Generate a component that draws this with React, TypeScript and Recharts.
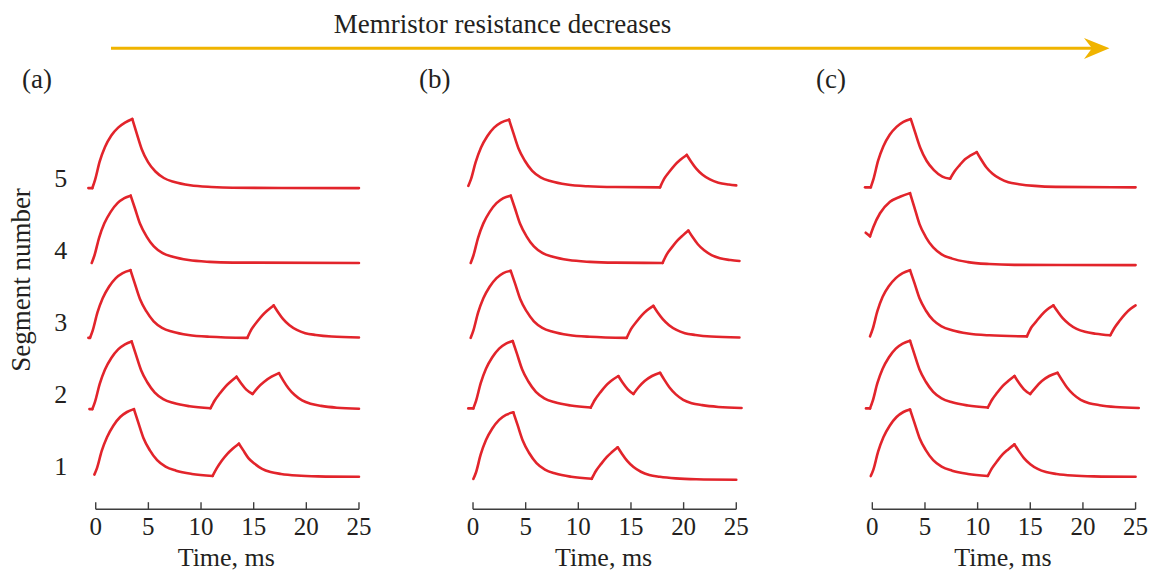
import React from "react";
import { LineChart, Line, XAxis, YAxis, ReferenceLine } from "recharts";

type Pt = [number, number];

const timeTicks = [0, 5, 10, 15, 20, 25];
const segmentTicks = [1, 2, 3, 4, 5];
const panelLabels = ["(a)", "(b)", "(c)"];

// resting level of segments 1..5 in each panel
const baseA = [0.85, 1.79, 2.78, 3.82, 4.86];
const baseB = [0.81, 1.8, 2.78, 3.82, 4.87];
const baseC = [0.85, 1.8, 2.8, 3.79, 4.87];

// [time ms, height above resting level]
const a1: Pt[] = [[-0.13, 0.03], [0.12, 0.12], [0.57, 0.36], [1.07, 0.55], [1.67, 0.71], [2.32, 0.83], [2.97, 0.9], [3.63, 0.94], [4.03, 0.76], [4.53, 0.54], [5.13, 0.37], [5.83, 0.23], [6.63, 0.14], [7.63, 0.085], [9.13, 0.04], [11.1, 0.012], [11.5, 0.12], [12.0, 0.23], [12.5, 0.32], [13.0, 0.39], [13.6, 0.46], [14.0, 0.37], [14.5, 0.26], [15.1, 0.18], [15.8, 0.11], [16.6, 0.066], [17.6, 0.04], [19.1, 0.018], [21.1, 0.006], [25, 0]];
const a2: Pt[] = [[-0.6, 0], [-0.32, 0], [-0.07, 0.1], [0.38, 0.35], [0.88, 0.55], [1.48, 0.71], [2.13, 0.83], [2.78, 0.9], [3.41, 0.94], [3.81, 0.76], [4.31, 0.54], [4.91, 0.37], [5.61, 0.23], [6.41, 0.14], [7.41, 0.085], [8.91, 0.04], [10.9, 0.012], [11.3, 0.12], [11.8, 0.22], [12.3, 0.31], [12.8, 0.38], [13.37, 0.45], [13.8, 0.36], [14.3, 0.27], [14.9, 0.21], [15.4, 0.3], [16.0, 0.38], [16.7, 0.45], [17.4, 0.5], [17.8, 0.4], [18.3, 0.29], [18.9, 0.195], [19.6, 0.12], [20.4, 0.073], [21.4, 0.045], [22.9, 0.02], [25, 0.006]];
const a3: Pt[] = [[-0.7, 0], [-0.54, 0], [-0.29, 0.1], [0.16, 0.35], [0.66, 0.55], [1.26, 0.71], [1.91, 0.83], [2.56, 0.9], [3.3, 0.94], [3.7, 0.76], [4.2, 0.54], [4.8, 0.37], [5.5, 0.23], [6.3, 0.14], [7.3, 0.085], [8.8, 0.04], [10.8, 0.015], [14.4, 0], [14.8, 0.12], [15.3, 0.22], [15.8, 0.31], [16.3, 0.38], [16.9, 0.45], [17.3, 0.36], [17.8, 0.26], [18.4, 0.175], [19.1, 0.11], [19.9, 0.065], [20.9, 0.04], [22.4, 0.018], [25, 0.005]];
const a4: Pt[] = [[-0.38, 0], [-0.13, 0.1], [0.32, 0.35], [0.82, 0.55], [1.42, 0.71], [2.07, 0.83], [2.72, 0.9], [3.32, 0.935], [3.72, 0.76], [4.22, 0.54], [4.82, 0.37], [5.52, 0.23], [6.32, 0.14], [7.32, 0.085], [8.82, 0.04], [10.8, 0.015], [13, 0.005], [25, 0]];
const a5: Pt[] = [[-0.7, 0], [-0.32, 0], [-0.07, 0.11], [0.38, 0.37], [0.88, 0.57], [1.48, 0.73], [2.13, 0.84], [2.78, 0.91], [3.47, 0.96], [3.87, 0.77], [4.37, 0.54], [4.97, 0.36], [5.67, 0.23], [6.47, 0.14], [7.47, 0.085], [8.97, 0.04], [10.97, 0.015], [13, 0.004], [25, 0]];

const b1: Pt[] = [[0.03, 0.01], [0.28, 0.1], [0.73, 0.35], [1.23, 0.55], [1.83, 0.71], [2.48, 0.83], [3.13, 0.9], [3.83, 0.935], [4.23, 0.76], [4.73, 0.54], [5.33, 0.37], [6.03, 0.23], [6.83, 0.14], [7.83, 0.085], [9.33, 0.04], [11.27, 0.012], [11.67, 0.12], [12.17, 0.22], [12.67, 0.31], [13.17, 0.38], [13.74, 0.45], [14.14, 0.36], [14.64, 0.26], [15.24, 0.175], [15.94, 0.11], [16.74, 0.065], [17.74, 0.04], [19.24, 0.018], [21.2, 0.006], [25, 0]];
const b2: Pt[] = [[-0.45, 0], [0.03, 0], [0.28, 0.1], [0.73, 0.35], [1.23, 0.55], [1.83, 0.71], [2.48, 0.83], [3.13, 0.9], [3.77, 0.935], [4.17, 0.76], [4.67, 0.54], [5.27, 0.37], [5.97, 0.23], [6.77, 0.14], [7.77, 0.085], [9.27, 0.04], [11.18, 0.012], [11.58, 0.12], [12.08, 0.22], [12.58, 0.31], [13.1, 0.38], [13.8, 0.45], [14.2, 0.36], [14.7, 0.265], [15.23, 0.2], [15.7, 0.29], [16.3, 0.38], [17.0, 0.45], [17.76, 0.495], [18.16, 0.4], [18.66, 0.29], [19.26, 0.195], [19.96, 0.12], [20.76, 0.073], [21.76, 0.045], [23.3, 0.02], [25.5, 0.006]];
const b3: Pt[] = [[-0.22, 0], [0.03, 0.1], [0.48, 0.35], [0.98, 0.55], [1.58, 0.71], [2.23, 0.83], [2.88, 0.9], [3.58, 0.93], [3.98, 0.76], [4.48, 0.54], [5.08, 0.37], [5.78, 0.23], [6.58, 0.14], [7.58, 0.085], [9.08, 0.04], [11.1, 0.015], [14.6, 0], [15.0, 0.12], [15.5, 0.22], [16.0, 0.31], [16.5, 0.38], [17.12, 0.445], [17.52, 0.355], [18.02, 0.26], [18.62, 0.175], [19.32, 0.11], [20.12, 0.065], [21.12, 0.04], [22.6, 0.018], [25.3, 0.005]];
const b4: Pt[] = [[-0.22, 0], [0.03, 0.1], [0.48, 0.35], [0.98, 0.55], [1.58, 0.71], [2.23, 0.83], [2.88, 0.9], [3.58, 0.935], [3.98, 0.76], [4.48, 0.54], [5.08, 0.37], [5.78, 0.23], [6.58, 0.14], [7.58, 0.085], [9.08, 0.04], [11.1, 0.015], [13.5, 0.004], [18.0, 0], [18.4, 0.12], [18.9, 0.22], [19.4, 0.31], [19.9, 0.38], [20.45, 0.45], [20.85, 0.36], [21.35, 0.26], [21.95, 0.175], [22.65, 0.11], [23.45, 0.065], [24.45, 0.04], [25.3, 0.028]];
const b5: Pt[] = [[-0.45, 0.02], [-0.2, 0.11], [0.25, 0.35], [0.75, 0.55], [1.35, 0.71], [2.0, 0.83], [2.65, 0.9], [3.42, 0.94], [3.82, 0.76], [4.32, 0.54], [4.92, 0.37], [5.62, 0.23], [6.42, 0.14], [7.42, 0.085], [8.92, 0.04], [10.9, 0.015], [13.5, 0.004], [17.76, 0], [18.16, 0.12], [18.66, 0.22], [19.16, 0.31], [19.66, 0.38], [20.3, 0.45], [20.7, 0.36], [21.2, 0.26], [21.8, 0.175], [22.5, 0.11], [23.3, 0.065], [24.3, 0.04], [25, 0.028]];

const c1: Pt[] = [[-0.15, 0.01], [0.1, 0.1], [0.55, 0.35], [1.05, 0.55], [1.65, 0.71], [2.3, 0.83], [2.95, 0.9], [3.58, 0.935], [3.98, 0.76], [4.48, 0.54], [5.08, 0.37], [5.78, 0.23], [6.58, 0.14], [7.58, 0.085], [9.08, 0.04], [10.97, 0.012], [11.37, 0.12], [11.87, 0.22], [12.37, 0.31], [12.9, 0.38], [13.5, 0.45], [13.9, 0.36], [14.4, 0.26], [15.0, 0.175], [15.7, 0.11], [16.5, 0.065], [17.5, 0.04], [19.0, 0.018], [21, 0.006], [25, 0]];
const c2: Pt[] = [[-0.6, 0], [-0.22, 0], [0.03, 0.1], [0.48, 0.35], [0.98, 0.55], [1.58, 0.71], [2.23, 0.83], [2.88, 0.9], [3.58, 0.94], [3.98, 0.76], [4.48, 0.54], [5.08, 0.37], [5.78, 0.23], [6.58, 0.14], [7.58, 0.085], [9.08, 0.04], [10.97, 0.012], [11.37, 0.12], [11.87, 0.22], [12.37, 0.31], [12.9, 0.38], [13.5, 0.45], [13.9, 0.36], [14.4, 0.265], [14.99, 0.2], [15.5, 0.29], [16.1, 0.38], [16.8, 0.45], [17.59, 0.495], [17.99, 0.4], [18.49, 0.29], [19.09, 0.195], [19.79, 0.12], [20.59, 0.073], [21.59, 0.045], [23.1, 0.02], [25.3, 0.006]];
const c3: Pt[] = [[-0.22, 0], [0.03, 0.1], [0.48, 0.35], [0.98, 0.55], [1.58, 0.7], [2.23, 0.81], [2.88, 0.88], [3.58, 0.92], [3.98, 0.75], [4.48, 0.53], [5.08, 0.36], [5.78, 0.225], [6.58, 0.14], [7.58, 0.085], [9.08, 0.04], [11.1, 0.015], [14.68, 0], [15.08, 0.12], [15.58, 0.21], [16.08, 0.3], [16.58, 0.37], [17.2, 0.43], [17.6, 0.345], [18.1, 0.25], [18.7, 0.17], [19.4, 0.105], [20.2, 0.063], [21.2, 0.038], [22.6, 0.016], [23.0, 0.12], [23.5, 0.22], [24.0, 0.31], [24.5, 0.38], [25, 0.43]];
const c4: Pt[] = [[-0.63, 0.45], [-0.22, 0.4], [0.1, 0.53], [0.73, 0.72], [1.68, 0.88], [2.63, 0.95], [3.58, 1.0], [3.98, 0.81], [4.48, 0.57], [5.08, 0.39], [5.78, 0.245], [6.58, 0.15], [7.58, 0.09], [9.08, 0.042], [11.1, 0.015], [13.5, 0.004], [25, 0]];
const c5: Pt[] = [[-0.69, 0], [-0.15, 0], [0.1, 0.11], [0.55, 0.37], [1.05, 0.57], [1.65, 0.73], [2.3, 0.84], [2.95, 0.91], [3.65, 0.95], [4.05, 0.77], [4.55, 0.55], [5.15, 0.37], [5.85, 0.24], [6.65, 0.15], [7.39, 0.12], [7.8, 0.22], [8.3, 0.31], [8.8, 0.39], [9.3, 0.44], [9.92, 0.49], [10.32, 0.39], [10.82, 0.28], [11.42, 0.19], [12.12, 0.12], [12.92, 0.07], [13.92, 0.044], [15.42, 0.02], [17.4, 0.007], [25, 0]];

const RED = "#e2242b";
const AXIS = "#3d3d3d";
const INK = "#231f20";
const GOLD = "#f0b400";
const SERIF = "'Liberation Serif', 'Times New Roman', serif";

const CH = 574;
const TOP = 113.2;
const XH = 64.8;
const PLOT_W = 278;

// cut a trace at every turn so each rising / falling run is smoothed on its own
// and the corners at the pulse peaks stay sharp
function runs(pts: Pt[]): Pt[][] {
  const out: Pt[][] = [];
  let cur: Pt[] = [pts[0]];
  let dir = 0;
  for (let i = 1; i < pts.length; i++) {
    const d = Math.sign(pts[i][1] - pts[i - 1][1]);
    if (cur.length > 1 && d !== dir) {
      out.push(cur);
      cur = [pts[i - 1]];
    }
    dir = d;
    cur.push(pts[i]);
  }
  out.push(cur);
  return out;
}

function TimeTick(props: any) {
  const { x, y, payload } = props;
  return (
    <g>
      <line x1={x} y1={y} x2={x} y2={y - 7} stroke={AXIS} strokeWidth={1.4} />
      <text x={x} y={y + 26} textAnchor="middle" fontSize={25} fontFamily={SERIF} fill={INK}>
        {payload.value}
      </text>
    </g>
  );
}

interface PanelProps {
  left: number;
  padLeft: number;
  padRight: number;
  showY: boolean;
  traces: Pt[][];
  bases: number[];
}

function Panel({ left, padLeft, padRight, showY, traces, bases }: PanelProps) {
  const width = padLeft + PLOT_W + padRight;
  return (
    <div style={{ position: "absolute", left, top: 0 }}>
      <LineChart width={width} height={CH} margin={{ top: TOP, right: padRight, bottom: 0, left: showY ? 0 : padLeft }}>
        <XAxis
          type="number"
          dataKey="t"
          domain={[-0.8, 25.6]}
          ticks={timeTicks}
          interval={0}
          height={XH}
          axisLine={false}
          tickLine={false}
          tickSize={0}
          tickMargin={0}
          tick={(p: any) => <TimeTick {...p} />}
          label={{ value: "Time, ms", position: "insideBottom", offset: 8, fontSize: 26, fontFamily: SERIF, fill: INK }}
        />
        <YAxis
          type="number"
          domain={[0.4, 5.9]}
          ticks={segmentTicks}
          hide={!showY}
          width={padLeft}
          axisLine={false}
          tickLine={false}
          tickSize={0}
          tickMargin={20}
          tick={{ fontSize: 26, fontFamily: SERIF, fill: INK }}
        />
        <ReferenceLine
          segment={[{ x: 0, y: 0.4 }, { x: 25, y: 0.4 }]}
          stroke={AXIS}
          strokeWidth={1.5}
          ifOverflow="visible"
        />
        {traces.flatMap((pts, i) =>
          runs(pts).map((run, j) => (
            <Line
              key={`${i}-${j}`}
              data={run.map(([t, h]) => ({ t, v: bases[i] + h }))}
              dataKey="v"
              type="monotoneX"
              stroke={RED}
              strokeWidth={2.6}
              strokeLinecap="round"
              dot={false}
              activeDot={false}
              isAnimationActive={false}
            />
          ))
        )}
      </LineChart>
    </div>
  );
}

export default function App() {
  return (
    <div style={{ position: "absolute", left: 0, top: 0, width: 1149, height: CH, background: "#fff" }}>
      <Panel left={0} padLeft={87.3} padRight={20} showY traces={[a1, a2, a3, a4, a5]} bases={baseA} />
      <Panel left={400} padLeft={64.6} padRight={20} showY={false} traces={[b1, b2, b3, b4, b5]} bases={baseB} />
      <Panel left={800} padLeft={63.9} padRight={7.1} showY={false} traces={[c1, c2, c3, c4, c5]} bases={baseC} />
      <svg width={1149} height={CH} style={{ position: "absolute", left: 0, top: 0, pointerEvents: "none" }}>
        <text x={502.5} y={33} textAnchor="middle" fontSize={27} fontFamily={SERIF} fill={INK}>
          Memristor resistance decreases
        </text>
        <line x1={111} y1={48.3} x2={1092} y2={48.3} stroke={GOLD} strokeWidth={3} />
        <polygon points="1109.5,48.3 1084,38 1092,48.3 1084,59" fill={GOLD} />
        {panelLabels.map((s, i) => (
          <text key={s} x={22 + i * 397} y={88} fontSize={27} fontFamily={SERIF} fill={INK}>
            {s}
          </text>
        ))}
        <text transform="translate(30,280) rotate(-90)" textAnchor="middle" fontSize={27} fontFamily={SERIF} fill={INK}>
          Segment number
        </text>
      </svg>
    </div>
  );
}
